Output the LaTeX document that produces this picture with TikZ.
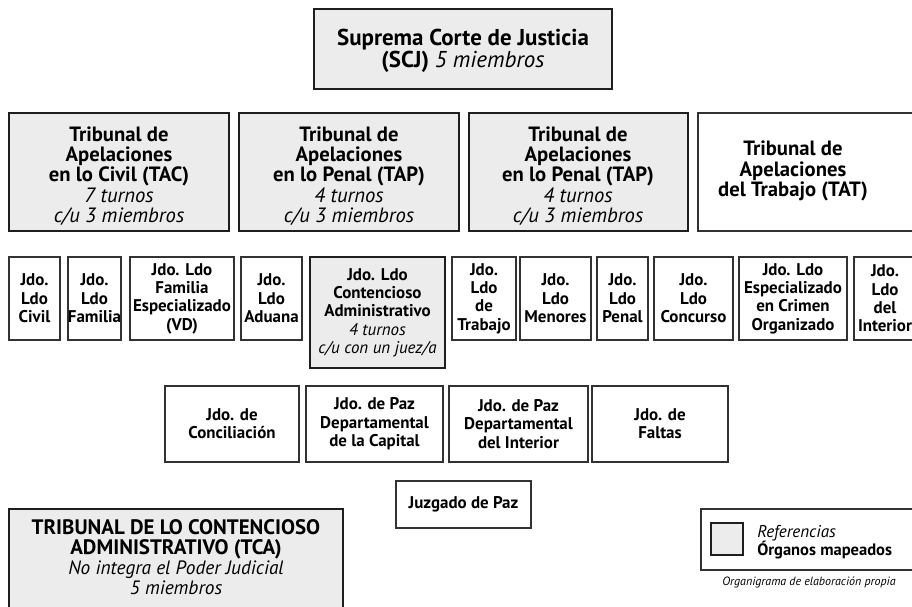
\documentclass[tikz,border=0pt]{standalone}
\usepackage{fontspec}
\setmainfont{PT Sans}
\definecolor{gfill}{RGB}{236,236,236}
\definecolor{edge}{RGB}{30,30,30}
\definecolor{thinedge}{RGB}{50,50,50}
\newcommand{\bx}[7]{%
 \pgfmathsetmacro{\bxcx}{(#3+#5)/2}\pgfmathsetmacro{\bxcy}{(#4+#6)/2}%
 \pgfmathsetmacro{\bxww}{(#5-#3)*0.75}\pgfmathsetmacro{\bxhh}{(#6-#4)*0.75}%
 \node[#2, minimum width=\bxww pt, minimum height=\bxhh pt] (#1) at (\bxcx,\bxcy) {#7};}
\newcommand{\lt}[1]{{\mdseries\itshape #1}}
\begin{document}
\begin{tikzpicture}[x=0.75pt,y=-0.75pt,
  mapped/.style={draw=edge, line width=2.2pt, fill=gfill, inner sep=0pt, outer sep=0pt, align=center},
  plain/.style={draw=thinedge, line width=0.9pt, fill=white, inner sep=0pt, outer sep=0pt, align=center},
  jtxt/.style={font=\fontsize{12.7}{13.75}\selectfont\bfseries},
  ttxt/.style={align=center, inner sep=0pt, font=\fontsize{15.5}{15.2}\selectfont\bfseries}]
\useasboundingbox (0,0) rectangle (912,606);
% top
\bx{scj}{mapped}{314}{9}{612}{89}{}
\node[align=center, inner sep=0pt, font=\fontsize{17.2}{16.5}\selectfont\bfseries] (scjt) at (463,51) {Suprema Corte de Justicia\\(SCJ) \lt{5 miembros}};
% row 2
\bx{tac}{mapped}{9}{113}{229}{231}{}
\node[ttxt] (tact) at (119,176) {Tribunal de\\Apelaciones\\en lo Civil (TAC)\\\lt{7 turnos}\\\lt{c/u 3 miembros}};
\bx{tapa}{mapped}{239}{113}{459}{231}{}
\node[ttxt] (tapat) at (349,176) {Tribunal de\\Apelaciones\\en lo Penal (TAP)\\\lt{4 turnos}\\\lt{c/u 3 miembros}};
\bx{tapb}{mapped}{469}{113}{688}{231}{}
\node[ttxt] (tapbt) at (578,176) {Tribunal de\\Apelaciones\\en lo Penal (TAP)\\\lt{4 turnos}\\\lt{c/u 3 miembros}};
\bx{tat}{plain}{698}{113}{930}{231}{}
\node[ttxt] (tatt) at (793,171) {Tribunal de\\Apelaciones\\del Trabajo (TAT)};
% row 3
\bx{civ}{plain,jtxt}{9}{257}{60}{340}{Jdo.\\Ldo\\Civil}
\bx{fam}{plain,jtxt}{68}{257}{121}{340}{Jdo.\\Ldo\\Familia}
\bx{fesp}{plain,jtxt}{130}{257}{234}{340}{Jdo. Ldo\\Familia\\Especializado\\(VD)}
\bx{adu}{plain,jtxt}{241}{257}{302}{340}{Jdo.\\Ldo\\Aduana}
\bx{cont}{mapped,jtxt}{310}{257}{445}{368}{Jdo. Ldo\\Contencioso\\Administrativo\\\lt{4 turnos}\\\lt{c/u con un juez/a}}
\bx{trab}{plain,jtxt}{452}{257}{516}{340}{Jdo.\\Ldo\\de\\Trabajo}
\bx{men}{plain,jtxt}{520}{257}{591}{340}{Jdo.\\Ldo\\Menores}
\bx{pen}{plain,jtxt}{597}{257}{648}{340}{Jdo.\\Ldo\\Penal}
\bx{concu}{plain,jtxt}{654}{257}{733}{340}{Jdo.\\Ldo\\Concurso}
\bx{crim}{plain,jtxt}{739}{257}{847}{340}{Jdo. Ldo\\Especializado\\en Crimen\\Organizado}
\bx{inte}{plain,jtxt}{854}{257}{916}{340}{Jdo.\\Ldo\\del\\Interior}
% row 4
\bx{conci}{plain,jtxt}{165}{386}{299}{462}{Jdo. de\\Conciliación}
\bx{capi}{plain,jtxt}{306}{386}{443}{462}{Jdo. de Paz\\Departamental\\de la Capital}
\bx{dint}{plain,jtxt}{449}{386}{588}{462}{Jdo. de Paz\\Departamental\\del Interior}
\bx{falt}{plain,jtxt}{592}{386}{728}{462}{Jdo. de\\Faltas}
\bx{jpaz}{plain,jtxt}{396}{481}{531}{528}{Juzgado de Paz}
% TCA
\bx{tca}{mapped}{9}{509}{343}{625}{}
\node[align=center, inner sep=0pt, font=\fontsize{15.7}{15}\selectfont\bfseries] (tcat) at (176,557) {TRIBUNAL DE LO CONTENCIOSO\\ADMINISTRATIVO (TCA)\\{\fontsize{14.5}{15}\selectfont\mdseries\itshape No integra el Poder Judicial}\\{\fontsize{14.5}{15}\selectfont\mdseries\itshape 5 miembros}};
% legend
\bx{leg}{plain}{701}{509}{925}{570}{}
\bx{legsq}{mapped, line width=1.6pt}{711}{523}{743}{555}{}
\node[anchor=base west, inner sep=0pt, font=\fontsize{12.8}{14}\selectfont\itshape] (legref) at (757,537) {Referencias};
\node[anchor=base west, inner sep=0pt, font=\fontsize{12.4}{14}\selectfont\bfseries] (legorg) at (757,555) {Órganos mapeados};
\node[inner sep=0pt, font=\fontsize{9}{10}\selectfont\itshape] (cap) at (809,582) {Organigrama de elaboración propia};
\end{tikzpicture}
\end{document}
